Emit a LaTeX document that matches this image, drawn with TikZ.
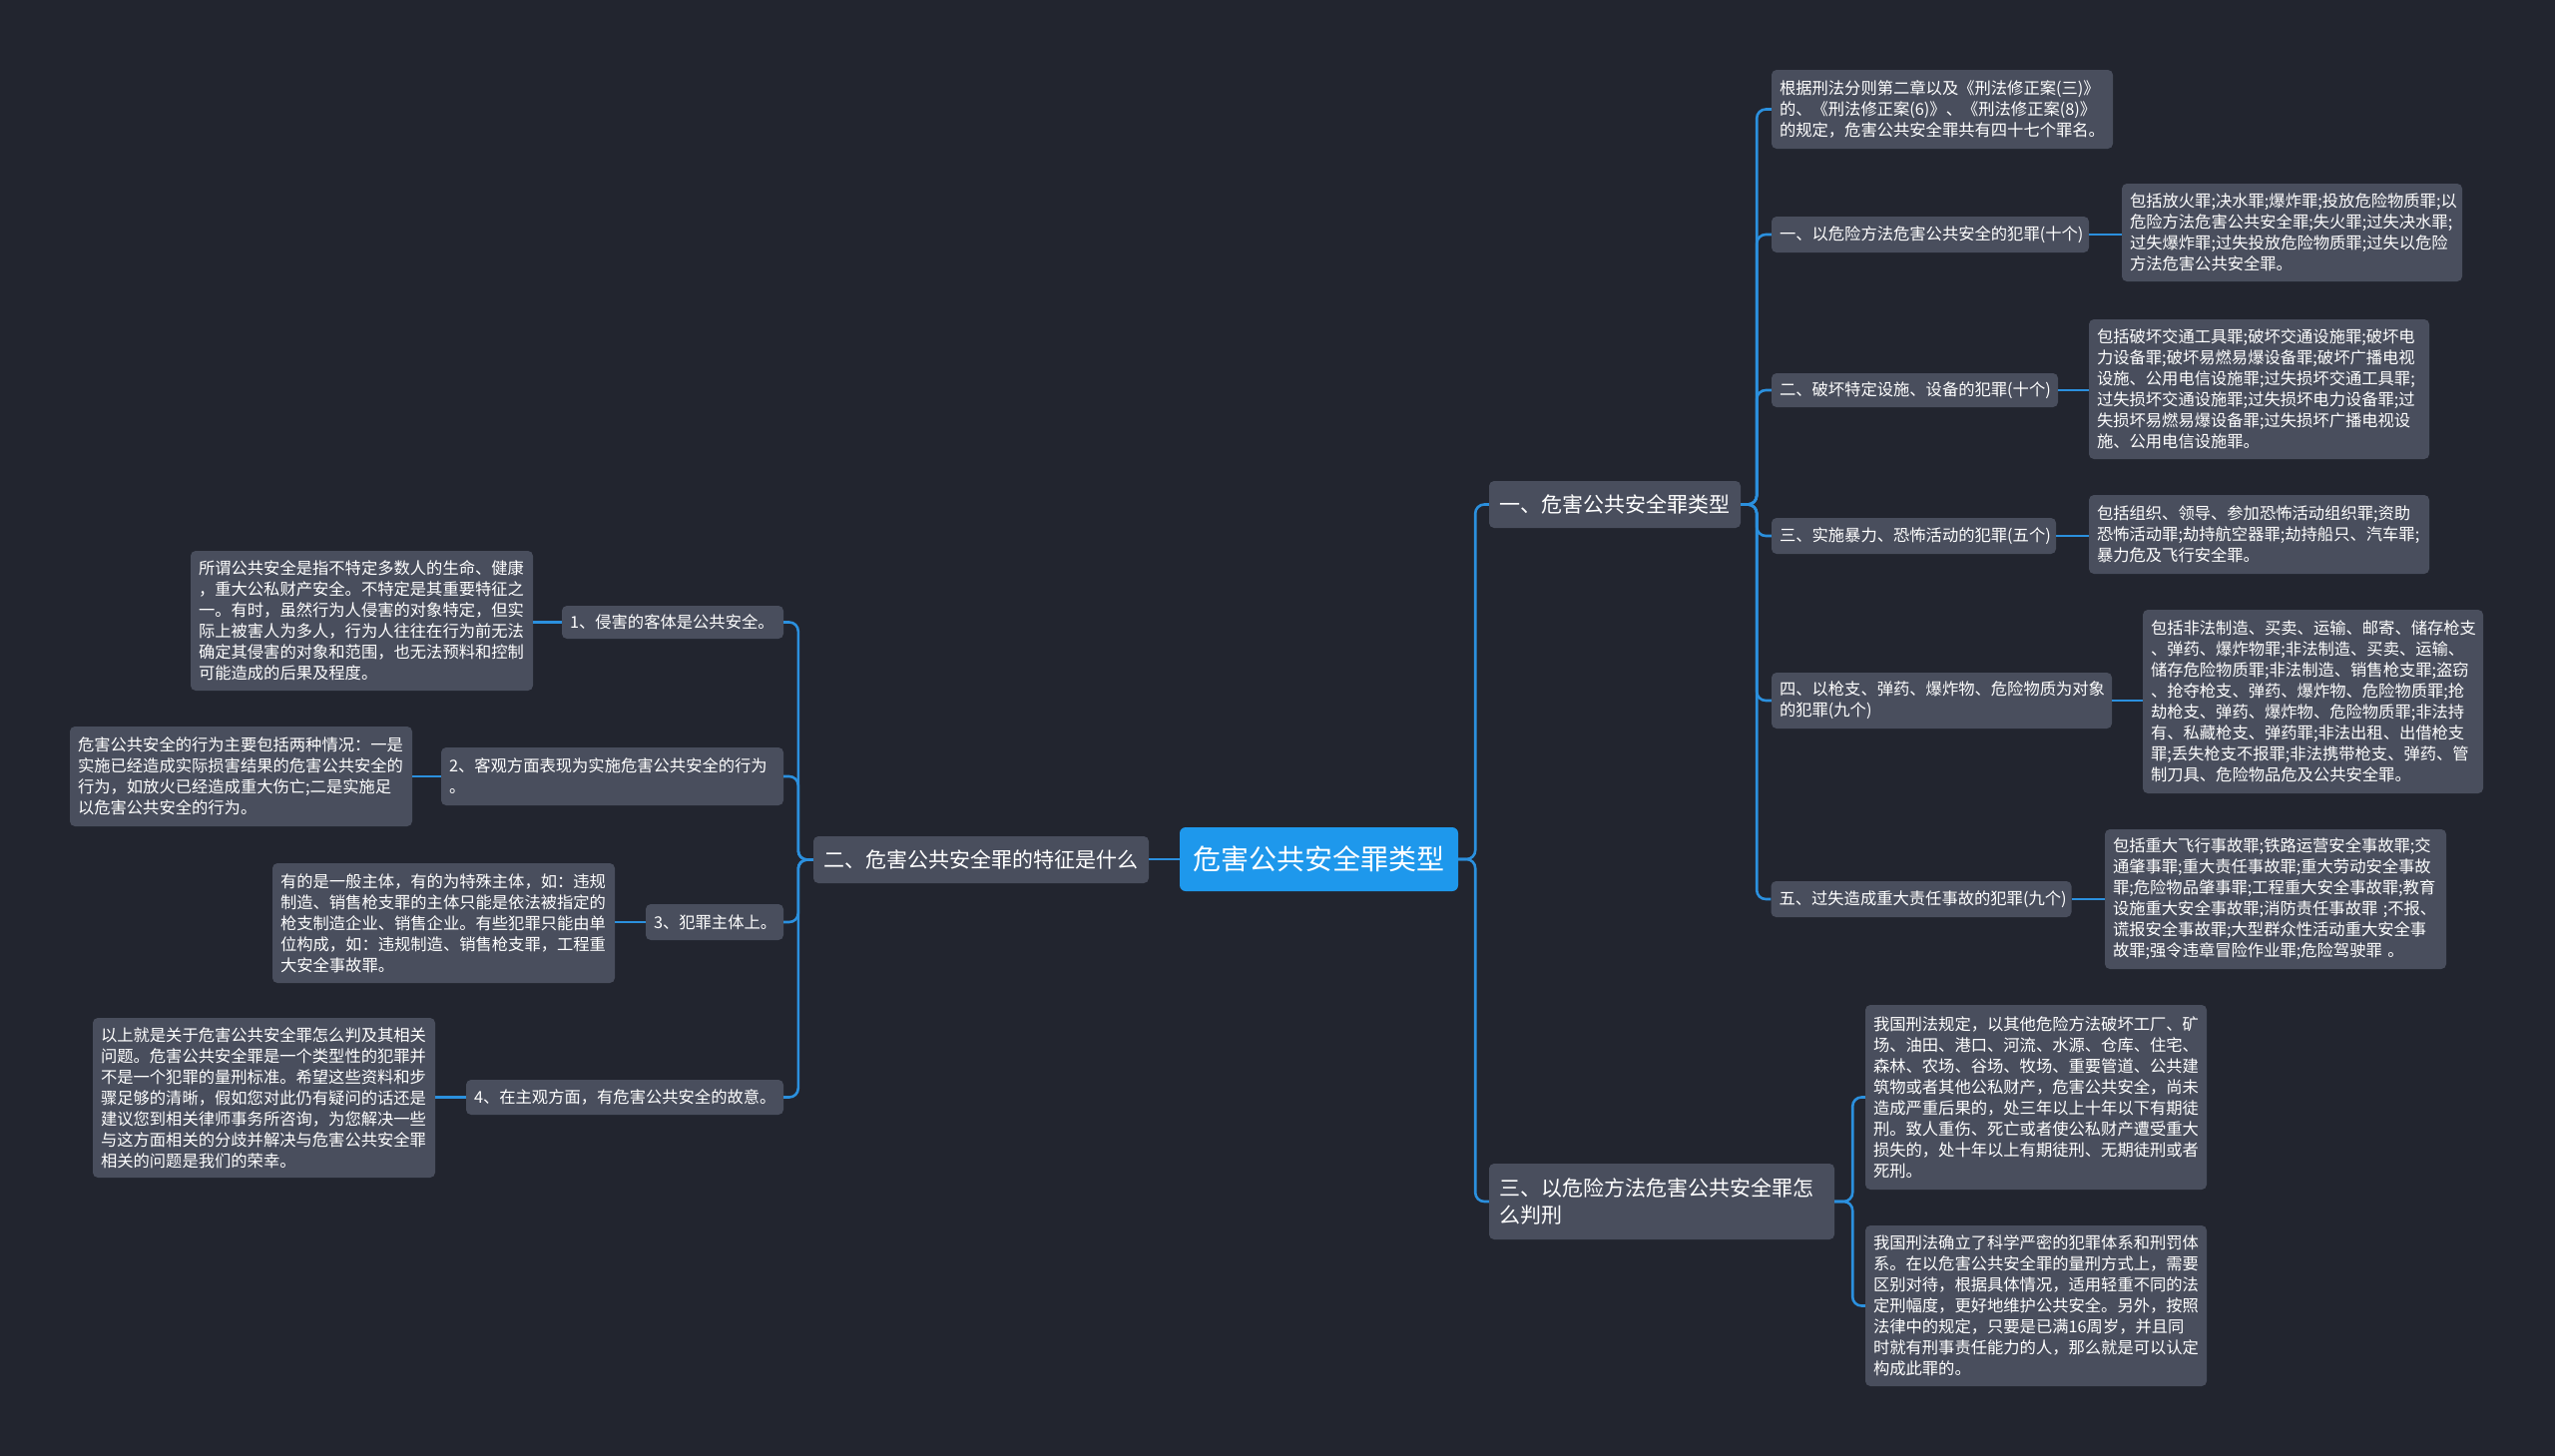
\documentclass[tikz,border=0pt]{standalone}
\usepackage{fontspec}
\setmainfont{Noto Sans CJK SC}
\definecolor{bgc}{HTML}{22252F}
\definecolor{boxc}{HTML}{494E5D}
\definecolor{rootc}{HTML}{1E98EC}
\definecolor{linec}{HTML}{2B90DE}
\tikzset{
  box/.style={fill=boxc, rounded corners=5pt, text=white, align=left, inner xsep=8pt, inner ysep=3pt, font=\fontsize{16.3pt}{21pt}\selectfont},
  lvone/.style={box, inner xsep=10pt, font=\fontsize{21pt}{27pt}\selectfont},
  rootbox/.style={fill=rootc, rounded corners=6pt, text=white, align=center, inner xsep=13pt, font=\fontsize{28pt}{34pt}\selectfont},
  conn/.style={draw=linec, line width=2.6pt, rounded corners=9pt},
}
\begin{document}
\begin{tikzpicture}[x=1pt,y=-1pt]
\fill[bgc] (0,0) rectangle (2560,1459);
\useasboundingbox (0,0) rectangle (2560,1459);

% root and level one
\node[rootbox, minimum width=279pt, minimum height=64pt] (root) at (1321.5,861) {危害公共安全罪类型};
\node[lvone, text width=316pt, minimum height=47pt] (L) at (983,861.5) {二、危害公共安全罪的特征是什么};
\node[lvone, text width=232pt, minimum height=47pt] (R1) at (1618,505.5) {一、危害公共安全罪类型};
\node[lvone, text width=326pt, minimum height=76pt] (R3) at (1665,1204) {三、以危险方法危害公共安全罪怎\\么判刑};

% right branch one
\node[box, text width=326pt, minimum height=79pt] (a) at (1946,109.5) {根据刑法分则第二章以及《刑法修正案(三)》\\的、《刑法修正案(6)》、《刑法修正案(8)》\\的规定，危害公共安全罪共有四十七个罪名。};
\node[box, text width=302pt, minimum height=36pt] (c1) at (1934,235) {一、以危险方法危害公共安全的犯罪(十个)};
\node[box, text width=325pt, minimum height=98pt] (d1) at (2296.5,233) {包括放火罪;决水罪;爆炸罪;投放危险物质罪;以\\危险方法危害公共安全罪;失火罪;过失决水罪;\\过失爆炸罪;过失投放危险物质罪;过失以危险\\方法危害公共安全罪。};
\node[box, text width=271pt, minimum height=34pt] (c2) at (1918.5,391) {二、破坏特定设施、设备的犯罪(十个)};
\node[box, text width=325pt, minimum height=140pt] (d2) at (2263.5,390) {包括破坏交通工具罪;破坏交通设施罪;破坏电\\力设备罪;破坏易燃易爆设备罪;破坏广播电视\\设施、公用电信设施罪;过失损坏交通工具罪;\\过失损坏交通设施罪;过失损坏电力设备罪;过\\失损坏易燃易爆设备罪;过失损坏广播电视设\\施、公用电信设施罪。};
\node[box, text width=269pt, minimum height=36pt] (c3) at (1917.5,537) {三、实施暴力、恐怖活动的犯罪(五个)};
\node[box, text width=325pt, minimum height=79pt] (d3) at (2263.5,535.5) {包括组织、领导、参加恐怖活动组织罪;资助\\恐怖活动罪;劫持航空器罪;劫持船只、汽车罪;\\暴力危及飞行安全罪。};
\node[box, text width=325pt, minimum height=56pt] (c4) at (1945.5,702) {四、以枪支、弹药、爆炸物、危险物质为对象\\的犯罪(九个)};
\node[box, text width=325pt, minimum height=184pt] (d4) at (2317.5,703) {包括非法制造、买卖、运输、邮寄、储存枪支\\、弹药、爆炸物罪;非法制造、买卖、运输、\\储存危险物质罪;非法制造、销售枪支罪;盗窃\\、抢夺枪支、弹药、爆炸物、危险物质罪;抢\\劫枪支、弹药、爆炸物、危险物质罪;非法持\\有、私藏枪支、弹药罪;非法出租、出借枪支\\罪;丢失枪支不报罪;非法携带枪支、弹药、管\\制刀具、危险物品危及公共安全罪。};
\node[box, text width=285pt, minimum height=36pt] (c5) at (1925,901) {五、过失造成重大责任事故的犯罪(九个)};
\node[box, text width=326pt, minimum height=140pt] (d5) at (2280,901) {包括重大飞行事故罪;铁路运营安全事故罪;交\\通肇事罪;重大责任事故罪;重大劳动安全事故\\罪;危险物品肇事罪;工程重大安全事故罪;教育\\设施重大安全事故罪;消防责任事故罪 ;不报、\\谎报安全事故罪;大型群众性活动重大安全事\\故罪;强令违章冒险作业罪;危险驾驶罪 。};

% right branch three
\node[box, text width=326pt, minimum height=185pt] (e1) at (2040,1099.5) {我国刑法规定，以其他危险方法破坏工厂、矿\\场、油田、港口、河流、水源、仓库、住宅、\\森林、农场、谷场、牧场、重要管道、公共建\\筑物或者其他公私财产，危害公共安全，尚未\\造成严重后果的，处三年以上十年以下有期徒\\刑。致人重伤、死亡或者使公私财产遭受重大\\损失的，处十年以上有期徒刑、无期徒刑或者\\死刑。};
\node[box, text width=326pt, minimum height=161pt] (e2) at (2040,1308.5) {我国刑法确立了科学严密的犯罪体系和刑罚体\\系。在以危害公共安全罪的量刑方式上，需要\\区别对待，根据具体情况，适用轻重不同的法\\定刑幅度，更好地维护公共安全。另外，按照\\法律中的规定，只要是已满16周岁，并且同\\时就有刑事责任能力的人，那么就是可以认定\\构成此罪的。};

% left branch
\node[box, text width=206pt, minimum height=33pt] (k1) at (674,623.5) {1、侵害的客体是公共安全。};
\node[box, text width=327pt, minimum height=140pt] (kd1) at (362.5,622) {所谓公共安全是指不特定多数人的生命、健康\\，重大公私财产安全。不特定是其重要特征之\\一。有时，虽然行为人侵害的对象特定，但实\\际上被害人为多人，行为人往往在行为前无法\\确定其侵害的对象和范围，也无法预料和控制\\可能造成的后果及程度。};
\node[box, text width=327pt, minimum height=58pt] (k2) at (613.5,778) {2、客观方面表现为实施危害公共安全的行为\\。};
\node[box, text width=327pt, minimum height=100pt] (kd2) at (241.5,778) {危害公共安全的行为主要包括两种情况：一是\\实施已经造成实际损害结果的危害公共安全的\\行为，如放火已经造成重大伤亡;二是实施足\\以危害公共安全的行为。};
\node[box, text width=122pt, minimum height=36pt] (k3) at (716,924) {3、犯罪主体上。};
\node[box, text width=327pt, minimum height=120pt] (kd3) at (444.5,925) {有的是一般主体，有的为特殊主体，如：违规\\制造、销售枪支罪的主体只能是依法被指定的\\枪支制造企业、销售企业。有些犯罪只能由单\\位构成，如：违规制造、销售枪支罪，工程重\\大安全事故罪。};
\node[box, text width=302pt, minimum height=35pt] (k4) at (626,1099.5) {4、在主观方面，有危害公共安全的故意。};
\node[box, text width=327pt, minimum height=160pt] (kd4) at (264.5,1100) {以上就是关于危害公共安全罪怎么判及其相关\\问题。危害公共安全罪是一个类型性的犯罪并\\不是一个犯罪的量刑标准。希望这些资料和步\\骤足够的清晰，假如您对此仍有疑问的话还是\\建议您到相关律师事务所咨询，为您解决一些\\与这方面相关的分歧并解决与危害公共安全罪\\相关的问题是我们的荣幸。};

% connectors
\draw[conn] (root.east) -- ++(17,0) |- (R1.west);
\draw[conn] (root.east) -- ++(17,0) |- (R3.west);
\draw[conn] (root.west) -- (root.west -| L.east);
\foreach \k in {k1,k2,k3,k4}{
  \draw[conn] (L.west) -- ++(-15,0) |- (\k.east);
}
\foreach \c in {a,c1,c2,c3,c4,c5}{
  \draw[conn] (R1.east) -- ++(16,0) |- (\c.west);
}
\foreach \c/\d in {c1/d1,c2/d2,c3/d3,c4/d4,c5/d5}{
  \draw[conn] (\c.east) -- (\c.east -| \d.west);
}
\foreach \e in {e1,e2}{
  \draw[conn] (R3.east) -- ++(18,0) |- (\e.west);
}
\foreach \k/\d in {k1/kd1,k2/kd2,k3/kd3,k4/kd4}{
  \draw[conn] (\k.west) -- (\k.west -| \d.east);
}
\end{tikzpicture}
\end{document}
